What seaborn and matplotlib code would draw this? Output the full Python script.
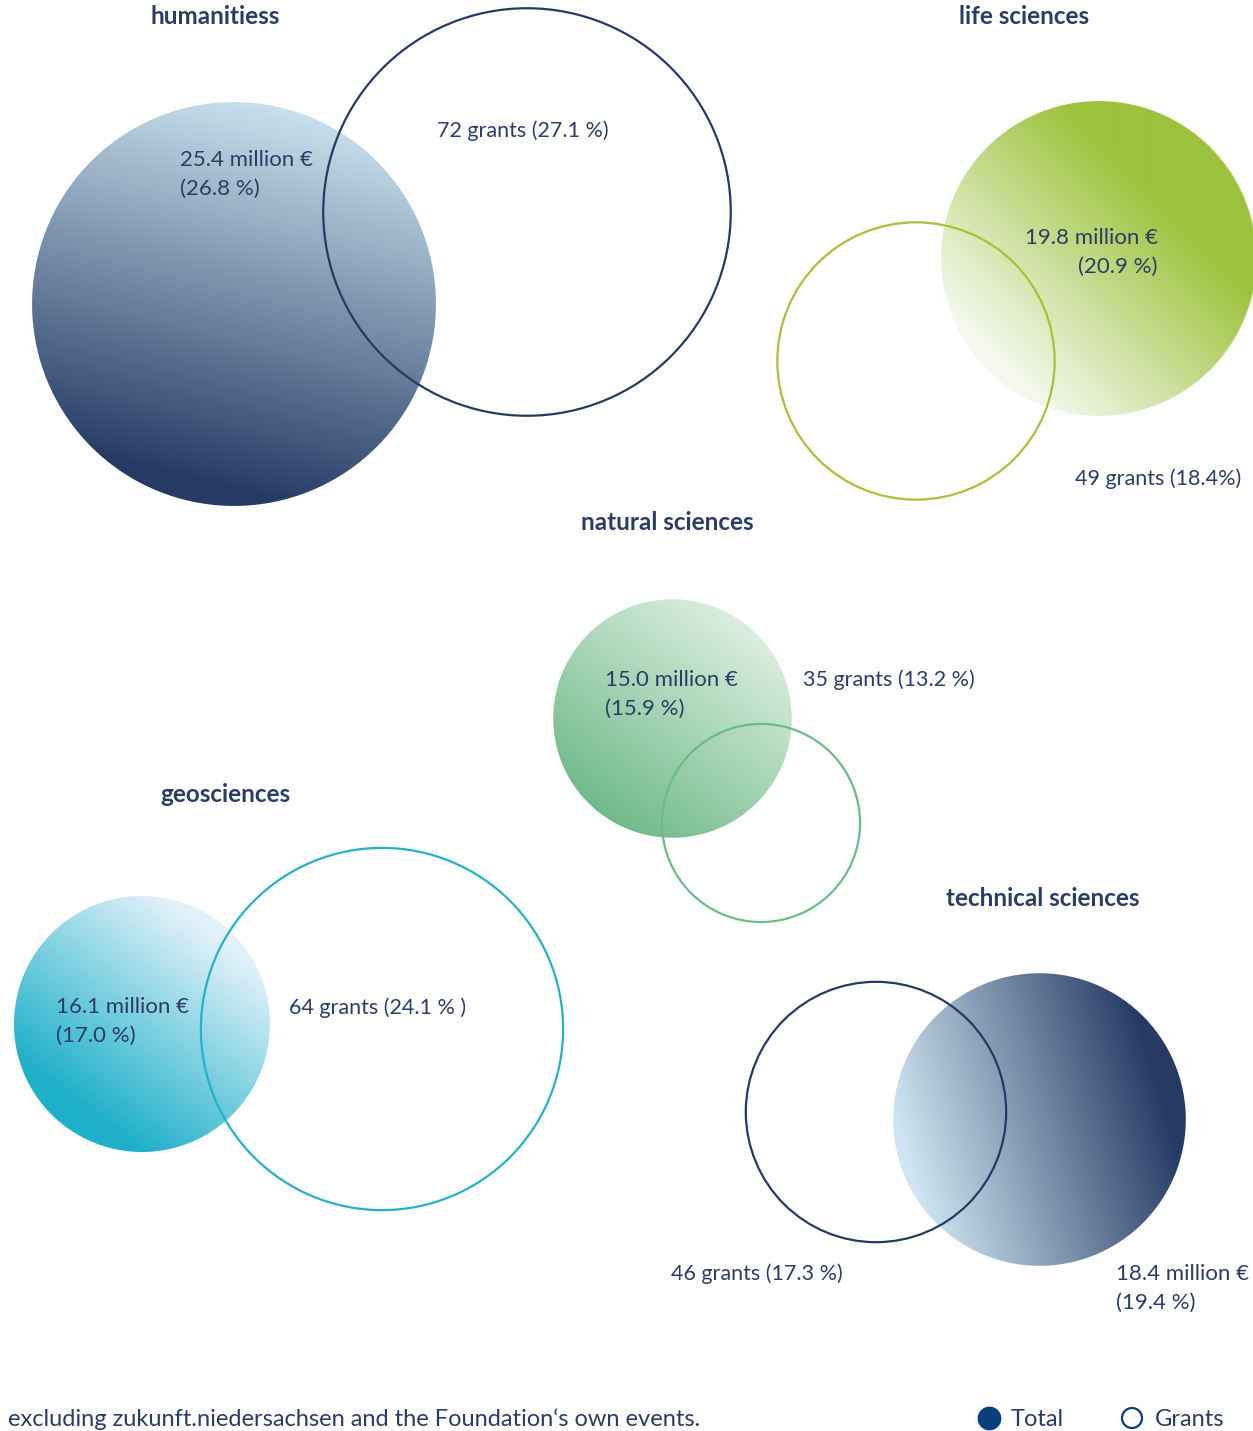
import numpy as np
import pandas as pd
import matplotlib.pyplot as plt
from matplotlib.colors import to_rgb
import seaborn as sns

# ---- data -------------------------------------------------------------
categories = ["humanitiess", "life sciences", "natural sciences",
              "geosciences", "technical sciences"]
funding_million = [25.4, 19.8, 15.0, 16.1, 18.4]
funding_pct = [26.8, 20.9, 15.9, 17.0, 19.4]
grants = [72, 49, 35, 64, 46]
grants_pct = [27.1, 18.4, 13.2, 24.1, 17.3]

# ---- layout (pixels on the 1253 x 1431 canvas, y grows downwards) -----
W, H = 1253, 1431
PX_PER_MILLION = 7.95
PX_PER_GRANT = 2.83
TEXT = "#2b3d66"

layout = {
    "humanitiess": dict(total_xy=(234, 304), grants_xy=(527, 212), title_xy=(215, 17),
                        total_lbl=(180, 160, "left"), grants_lbl=(437, 131, "left"),
                        light="#c9e1ee", dark="#263b64", direction=(-0.25, 1.0),
                        span=(-1.0, 0.9), line="#263b64", grants_fmt="{} grants ({:.1f} %)"),
    "life sciences": dict(total_xy=(1098, 259), grants_xy=(916, 361), title_xy=(1024, 17),
                          total_lbl=(1158, 238, "right"), grants_lbl=(1075, 479, "left"),
                          light="#f4f8ec", dark="#9cc23c", direction=(1.0, -1.0),
                          span=(-0.9, 0.55), line="#a2c43a", grants_fmt="{} grants ({:.1f}%)"),
    "natural sciences": dict(total_xy=(672, 719), grants_xy=(761, 823), title_xy=(667, 523),
                             total_lbl=(605, 680, "left"), grants_lbl=(803, 680, "left"),
                             light="#dbeedf", dark="#70ba8a", direction=(-0.6, 0.8),
                             span=(-1.0, 1.0), line="#6dba8b", grants_fmt="{} grants ({:.1f} %)"),
    "geosciences": dict(total_xy=(142, 1024), grants_xy=(382, 1029), title_xy=(225, 795),
                        total_lbl=(56, 1007, "left"), grants_lbl=(289, 1008, "left"),
                        light="#e3f2fa", dark="#1eb0c9", direction=(-0.6, 0.8),
                        span=(-0.9, 0.8), line="#25b1c9", grants_fmt="{} grants ({:.1f} % )"),
    "technical sciences": dict(total_xy=(1039, 1120), grants_xy=(876, 1112), title_xy=(1043, 898),
                               total_lbl=(1116, 1274, "left"), grants_lbl=(671, 1274, "left"),
                               light="#cfe6f2", dark="#263b64", direction=(1.0, -0.3),
                               span=(-0.95, 0.85), line="#263b64", grants_fmt="{} grants ({:.1f} %)"),
}

sns.set_theme(style="white")
plt.rcParams["font.family"] = ["Lato", "DejaVu Sans"]

fig = plt.figure(figsize=(W / 100, H / 100), dpi=100)
ax = fig.add_axes([0, 0, 1, 1])


def gradient_disc(ax, cx, cy, r, light, dark, direction, span):
    """Disc with a linear colour gradient and a soft (anti-aliased) edge."""
    n = int(np.ceil(2 * r)) + 2
    half = n / 2
    px = np.arange(n) - half + 0.5
    X, Y = np.meshgrid(px, px)
    d = np.array(direction, dtype=float)
    d /= np.linalg.norm(d)
    t = (X * d[0] + Y * d[1]) / r
    t = np.clip((t - span[0]) / (span[1] - span[0]), 0, 1)[..., None]
    rgb = np.array(to_rgb(light)) + (np.array(to_rgb(dark)) - np.array(to_rgb(light))) * t
    alpha = np.clip(r - np.hypot(X, Y) + 0.5, 0, 1)[..., None]
    img = np.concatenate([rgb, alpha], axis=2)
    ax.imshow(img, extent=[cx - half, cx + half, cy + half, cy - half],
              origin="upper", interpolation="bilinear", aspect="auto", zorder=1)


for cat, mil, mpct, g, gpct in zip(categories, funding_million, funding_pct, grants, grants_pct):
    lay = layout[cat]
    r_tot = mil * PX_PER_MILLION
    r_gr = g * PX_PER_GRANT

    gradient_disc(ax, *lay["total_xy"], r_tot, lay["light"], lay["dark"],
                  lay["direction"], lay["span"])

    # grants: open circle, marker size in points^2 (1 px = 0.72 pt at 100 dpi)
    gdf = pd.DataFrame({"x": [lay["grants_xy"][0]], "y": [lay["grants_xy"][1]]})
    sns.scatterplot(data=gdf, x="x", y="y", s=(2 * r_gr * 0.72) ** 2, marker="o",
                    ax=ax, legend=False, zorder=2)
    coll = ax.collections[-1]
    coll.set_facecolor("none")
    coll.set_edgecolor(lay["line"])
    coll.set_linewidth(1.6)

    # texts
    ax.text(*lay["title_xy"], cat, ha="center", va="center", fontsize=17.5,
            fontweight="bold", color=TEXT, zorder=5)
    tx, ty, tha = lay["total_lbl"]
    ax.text(tx, ty, f"{mil:.1f} million €", ha=tha, va="center", fontsize=16,
            color=TEXT, zorder=5)
    ax.text(tx, ty + 29, f"({mpct:.1f} %)", ha=tha, va="center", fontsize=16,
            color=TEXT, zorder=5)
    gx, gy, gha = lay["grants_lbl"]
    ax.text(gx, gy, lay["grants_fmt"].format(g, gpct), ha=gha, va="center",
            fontsize=15.5, color=TEXT, zorder=5)

# footnote
ax.text(8, 1419, "excluding zukunft.niedersachsen and the Foundation\u2018s own events.",
        ha="left", va="center", fontsize=17, color=TEXT)

# legend
LEG = "#0b3f7c"
leg = pd.DataFrame({"x": [989, 1132], "y": [1418, 1418]})
sns.scatterplot(data=leg.iloc[[0]], x="x", y="y", s=(22 * 0.72) ** 2, ax=ax,
                legend=False, color=LEG, edgecolor=LEG, zorder=5)
sns.scatterplot(data=leg.iloc[[1]], x="x", y="y", s=(20 * 0.72) ** 2, ax=ax,
                legend=False, zorder=5)
c = ax.collections[-1]
c.set_facecolor("none")
c.set_edgecolor(LEG)
c.set_linewidth(1.6)
ax.text(1011, 1419, "Total", ha="left", va="center", fontsize=17, color=TEXT)
ax.text(1155, 1419, "Grants", ha="left", va="center", fontsize=17, color=TEXT)

ax.set_xlim(0, W)
ax.set_ylim(H, 0)
ax.axis("off")

fig.savefig("out.png", dpi=100, facecolor="white")
